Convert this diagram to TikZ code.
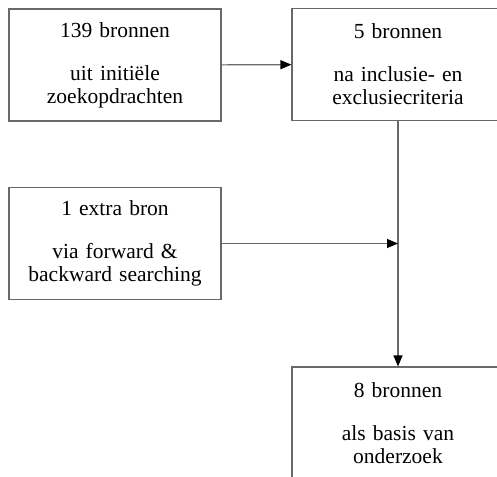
\documentclass[tikz,border=0pt]{standalone}
\usepackage{fontspec}
\setmainfont{Liberation Serif}
\usetikzlibrary{arrows.meta, positioning}
\definecolor{BronRand}{RGB}{105, 105, 105}

\begin{document}
\begin{tikzpicture}[x=1pt, y=-1pt,
    bronbox/.style={draw=BronRand, line width=1.1pt, minimum width=212pt, minimum height=112pt, text width=205pt, inner sep=0pt, align=center, font=\fontsize{21.5}{23}\selectfont},
    flow/.style={draw=BronRand, line width=1.1pt, -{Triangle[length=11pt, width=9pt, color=black]}}]
    \useasboundingbox (0,0) rectangle (497,476);
    \node[bronbox] (initieel) at (115,65) {139 bronnen\\[20pt] uit initiële\\ zoekopdrachten};
    \node[bronbox] (criteria) at (398,64.5) {5 bronnen\\[20pt] na inclusie- en\\ exclusiecriteria};
    \node[bronbox] (extra) at (115,243.5) {1 extra bron\\[20pt] via forward \&\\ backward searching};
    \node[bronbox] (basis) at (398,423) {8 bronnen\\[20pt] als basis van\\ onderzoek};
    \coordinate (samen) at (basis.north |- extra.east);
    \draw[flow] (initieel) -- (criteria);
    \draw[flow] (criteria) -- (basis);
    \draw[flow] (extra.east) -- (samen);
  \end{tikzpicture}
\end{document}
